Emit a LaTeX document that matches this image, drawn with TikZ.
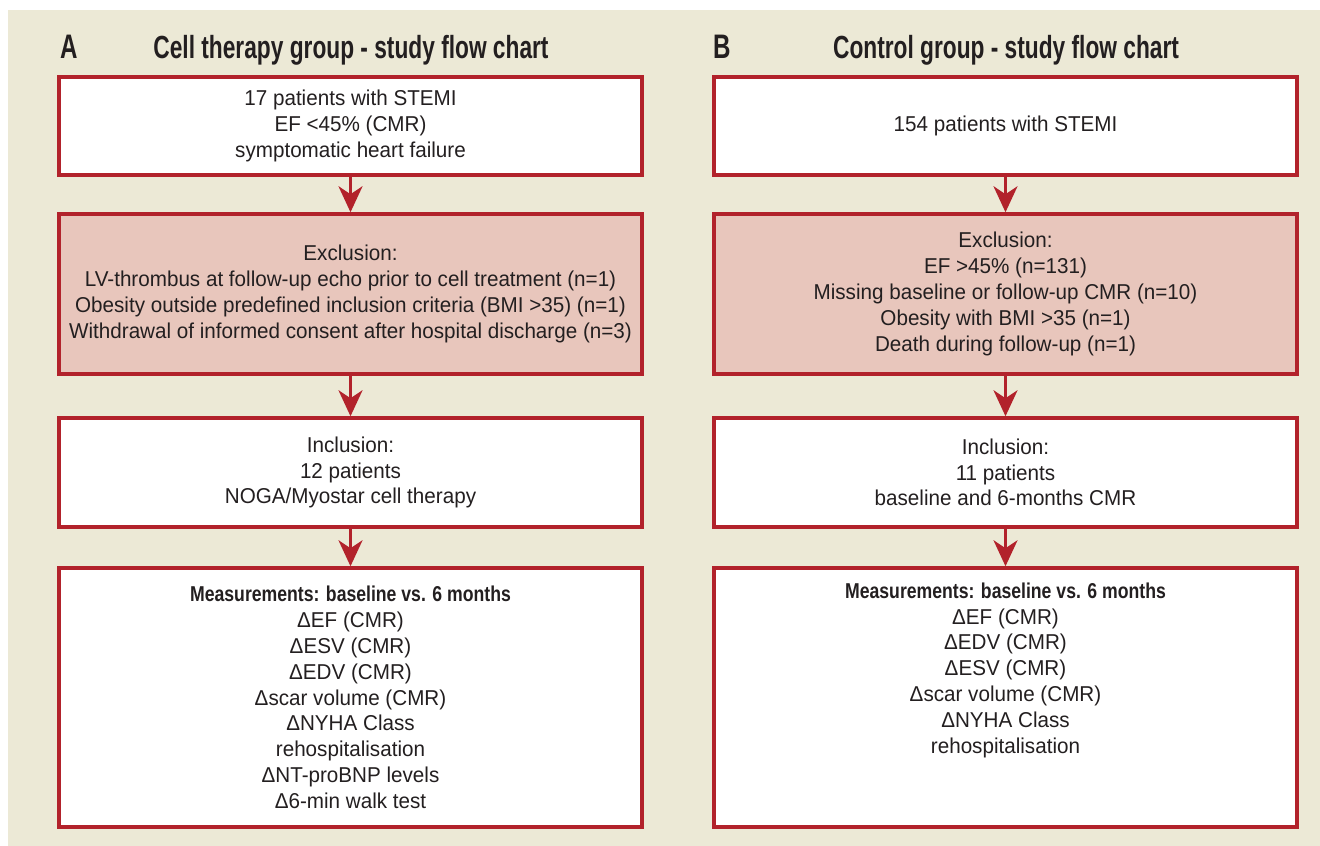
\documentclass[tikz,border=0pt]{standalone}
\usepackage{fontspec}
\setmainfont{Liberation Sans}[FakeStretch=0.96, BoldFeatures={FakeStretch=0.82}]
\newfontfamily\titlefont{Liberation Sans}[FakeStretch=0.71]
\usetikzlibrary{arrows.meta}
\definecolor{bgbeige}{HTML}{ECE9D6}
\definecolor{boxred}{HTML}{B2222B}
\definecolor{pinkfill}{HTML}{E8C6BC}
\definecolor{txt}{HTML}{231F20}
\tikzset{
  box/.style={draw=boxred, line width=3.5pt, fill=white, minimum width=583pt,
    inner sep=0pt, align=center, text=txt,
    font=\fontsize{21.5}{25.8}\selectfont},
  exbox/.style={box, fill=pinkfill},
  flow/.style={draw=boxred, line width=3pt,
    -{Stealth[length=26pt, width=24pt, inset=8pt]}},
  heading/.style={text=txt, font=\titlefont\bfseries\fontsize{32}{36}\selectfont, inner sep=0pt, anchor=base},
  letter/.style={heading, font=\titlefont\bfseries\fontsize{34}{36}\selectfont, anchor=base west},
}
\begin{document}
\begin{tikzpicture}[x=1pt,y=1pt]
\useasboundingbox (0,0) rectangle (1320,-846);
\fill[bgbeige] (8,-10) rectangle (1320,-846);

% Panel A
\node[letter] (la) at (60,-58) {A};
\node[heading] (ta) at (351,-58) {Cell therapy group - study flow chart};
\node[box, minimum height=98pt] (a1) at (350.5,-126)
  {17 patients with STEMI\\EF <45\% (CMR)\\symptomatic heart failure};
\node[exbox, minimum height=160pt] (a2) at (350.5,-294)
  {Exclusion:\\LV-thrombus at follow-up echo prior to cell treatment (n=1)\\Obesity outside predefined inclusion criteria (BMI >35) (n=1)\\Withdrawal of informed consent after hospital discharge (n=3)};
\node[box, minimum height=109pt] (a3) at (350.5,-472.5)
  {Inclusion:\\12 patients\\NOGA/Myostar cell therapy};
\node[box, minimum height=259pt] (a4) at (350.5,-697.5)
  {\textbf{Measurements: baseline vs. 6 months}\\ΔEF (CMR)\\ΔESV (CMR)\\ΔEDV (CMR)\\Δscar volume (CMR)\\ΔNYHA Class\\rehospitalisation\\ΔNT-proBNP levels\\Δ6-min walk test};
\draw[flow] (a1) -- (a2);
\draw[flow] (a2) -- (a3);
\draw[flow] (a3) -- (a4);

% Panel B
\node[letter] (lb) at (713,-58) {B};
\node[heading] (tb) at (1006,-58) {Control group - study flow chart};
\node[box, minimum height=98pt] (b1) at (1005.5,-126)
  {154 patients with STEMI};
\node[exbox, minimum height=160pt] (b2) at (1005.5,-294)
  {Exclusion:\\EF >45\% (n=131)\\Missing baseline or follow-up CMR (n=10)\\Obesity with BMI >35 (n=1)\\Death during follow-up (n=1)};
\node[box, minimum height=109pt] (b3) at (1005.5,-472.5)
  {Inclusion:\\11 patients\\baseline and 6-months CMR};
\node[box, minimum height=259pt] (b4) at (1005.5,-697.5)
  {\textbf{Measurements: baseline vs. 6 months}\\ΔEF (CMR)\\ΔEDV (CMR)\\ΔESV (CMR)\\Δscar volume (CMR)\\ΔNYHA Class\\rehospitalisation\\\strut\\\strut};
\draw[flow] (b1) -- (b2);
\draw[flow] (b2) -- (b3);
\draw[flow] (b3) -- (b4);
\end{tikzpicture}
\end{document}
